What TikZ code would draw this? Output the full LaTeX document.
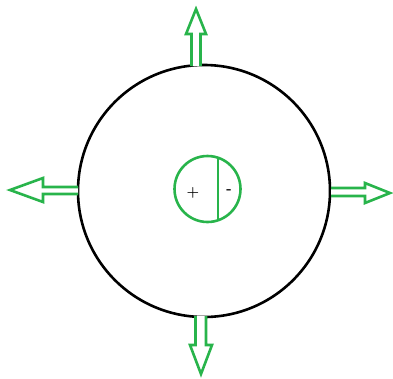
\documentclass[tikz,border=0pt]{standalone}
\definecolor{grn}{RGB}{40,180,75}
\tikzset{
  hollowarrow/.style={draw=grn, line width=2.6pt, line join=miter, fill=white},
  ring/.style={draw=black, line width=2.6pt},
  sign/.style={font=\Large\bfseries, inner sep=0pt, text=black}
}
\begin{document}
\begin{tikzpicture}[x=1pt,y=1pt]
\useasboundingbox (0,0) rectangle (393,-378);
% big circle
\coordinate (C) at (204,-191);
\draw[ring] (C) circle (126);
% arrows
\draw[hollowarrow] (200.5,-66) -- (200.5,-34) -- (206,-34) -- (196,-9) -- (186,-34) -- (191.5,-34) -- (191.5,-66);
\draw[hollowarrow] (78,-187) -- (43,-187) -- (43,-178) -- (10,-190) -- (43,-202) -- (43,-194) -- (78,-194);
\draw[hollowarrow] (331,-188) -- (365,-188) -- (365,-183) -- (390,-193) -- (365,-203) -- (365,-196) -- (331,-196);
\draw[hollowarrow] (195.5,-316) -- (195.5,-345) -- (190,-345) -- (201,-374) -- (212,-345) -- (206,-345) -- (206,-316);
% small circle
\coordinate (S) at (207.5,-189);
\draw[draw=grn, line width=2.6pt] (S) circle (33);
\draw[draw=grn, line width=2.6pt] (218,-157.7) -- (218,-220.3);
\node[sign] (plus) at (193,-193) {+};
\node[sign] (minus) at (229,-192) {-};
\end{tikzpicture}
\end{document}
